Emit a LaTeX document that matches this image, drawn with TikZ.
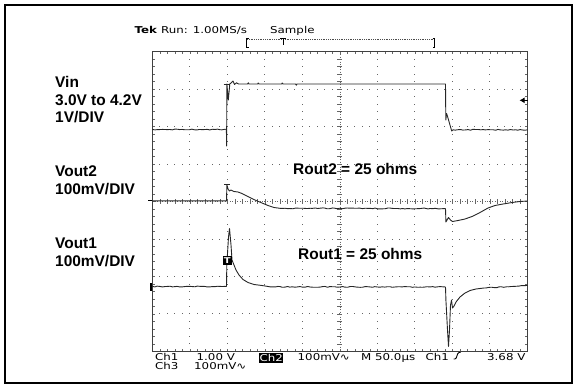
\documentclass[tikz,border=0pt]{standalone}
\usepackage{fontspec}
\setmainfont{Liberation Sans}
\newfontfamily\tekfont[FakeStretch=1.25]{DejaVu Sans}
\usetikzlibrary{arrows.meta,decorations.pathmorphing}

\begin{document}
\begin{tikzpicture}[x=1bp, y=-1bp,
        tek/.style={font=\tekfont\fontsize{9.5}{10}\selectfont, anchor=base west, inner sep=0pt},
        chlabel/.style={font=\fontsize{15.5}{17.5}\selectfont\bfseries, anchor=base west, inner sep=0pt},
        trace/.style={black!85, line width=0.9bp, line join=round},
        noisy/.style={decorate, decoration={random steps, segment length=2.5bp, amplitude=0.45bp}},
        griddot/.style={fill=black!60},
        gridtick/.style={draw=black!60, line width=0.6bp}
    ]
        \useasboundingbox (0,0) rectangle (576,385);

        % Rahmen
        \draw[line width=2bp] (5,5) rectangle (572,382.5);

        % Raster
        \foreach \k in {1,2,3,4,6,7,8,9} {
            \foreach \m in {1,...,39} {
                \fill[griddot] (151.8+37.52*\k, 51.2+7.494*\m) rectangle ++(1,1);
            }
        }
        \foreach \j in {1,2,3,5,6,7} {
            \foreach \m in {1,...,49} {
                \fill[griddot] (151.8+7.504*\m, 51.2+37.47*\j) rectangle ++(1,1);
            }
        }
        % Mittellinien mit Teilstrichen
        \draw[gridtick, dash pattern=on 0.8bp off 1.7bp] (339.9,51.7) -- (339.9,351.5);
        \draw[gridtick, dash pattern=on 0.8bp off 1.7bp] (152.3,201.6) -- (527.5,201.6);
        \foreach \m in {1,...,49} {
            \draw[gridtick] (152.3+7.504*\m,199.1) -- ++(0,5);
            \draw[gridtick] (152.3+7.504*\m,51.7) -- ++(0,2.5);
            \draw[gridtick] (152.3+7.504*\m,351.5) -- ++(0,-2.5);
        }
        \foreach \m in {1,...,39} {
            \draw[gridtick] (337.4,51.7+7.494*\m) -- ++(5,0);
            \draw[gridtick] (152.3,51.7+7.494*\m) -- ++(2.5,0);
            \draw[gridtick] (527.5,51.7+7.494*\m) -- ++(-2.5,0);
        }
        \draw[black!75, line width=0.9bp] (152.3,51.7) rectangle (527.5,351.5);

        % Kopfzeile
        \node[tek] (tek) at (134.5,33.5) {\textbf{Tek} Run: 1.00MS/s};
        \node[tek] (sample) at (270,33.5) {Sample};
        \draw[line width=0.8bp] (248.5,38.3) -- (246.7,38.3) -- (246.7,47) -- (248.5,47);
        \draw[line width=0.8bp] (432.5,38.3) -- (434.3,38.3) -- (434.3,47) -- (432.5,47);
        \draw[black!70, line width=0.6bp, dash pattern=on 0.8bp off 1bp] (247,39.3) -- (434,39.3);
        \draw[line width=0.8bp] (280,38.5) -- (286,38.5) (283,38.5) -- (283,45);

        % Kanalbeschriftungen
        \node[chlabel] (vin) at (55,87.3) {Vin};
        \node[chlabel] (vinrange) at (55,105) {3.0V to 4.2V};
        \node[chlabel] (vindiv) at (55,122.3) {1V/DIV};
        \node[chlabel] (vouttwo) at (55,176.7) {Vout2};
        \node[chlabel] (vouttwodiv) at (55,194.3) {100mV/DIV};
        \node[chlabel] (voutone) at (55,248.3) {Vout1};
        \node[chlabel] (voutonediv) at (55,266.7) {100mV/DIV};
        \node[chlabel] (routtwo) at (293,174) {Rout2 = 25 ohms};
        \node[chlabel] (routone) at (298,259.3) {Rout1 = 25 ohms};

        % Vin
        \draw[trace, noisy] (152.3,129.5) -- (226.4,129.5);
        \draw[trace] (226.4,129.5) -- (226.6,146) -- (226.9,84) -- (228.3,100) -- (229.8,84)
            -- (231.5,82.5) -- (233,81) -- (234.5,84.5) -- (236.5,82.8) -- (238.5,84)
            -- (247.5,84) -- (248.3,82.8) -- (249,84) -- (257.5,84) -- (258.3,83) -- (259,84)
            -- (281.5,84) -- (282.3,83) -- (283,84) -- (295.5,84) -- (296.3,85.2) -- (297,84)
            -- (445.5,84) -- (445.8,120) -- (446.6,113.5) -- (447.4,116) -- (451.7,131) -- (453,129.8);
        \draw[trace] (223.5,84) -- (230,84);
        \draw[trace, noisy] (453,129.8) -- (527.5,129.8);
        \draw[-{Latex[length=5bp,width=6bp]}, line width=1bp] (527.5,100.3) -- (519.5,100.3);

        % Vout2
        \draw[line width=1bp] (148,200.8) -- (152.3,200.8);
        \draw[trace] (152.3,200.8) -- (226.6,200.8) -- (226.8,184.5) -- (228,189) -- (229.5,191)
            -- (231,190) -- (234,191.5) -- (238,192) -- (242,193.5) -- (248,196.5) -- (255,200)
            -- (262,203) -- (268,205.5) -- (274,207.5) -- (280,208.3);
        \draw[trace] (224,184.5) -- (230,184.5);
        \draw[trace, noisy] (280,208.3) -- (445.5,208.5);
        \draw[trace] (445.5,208.5) -- (445.9,222) -- (447,220) -- (448.5,217.5) -- (450.5,220)
            -- (452.5,221.5) -- (458,220.5) -- (465,219) -- (472,216.5) -- (480,212.5) -- (488,208)
            -- (495,205.5) -- (503,204) -- (512,202.5) -- (520,201.5) -- (527.5,201);

        % Vout1
        \draw[line width=1.6bp] (150.8,283) -- (150.8,290.5);
        \draw[trace, noisy] (152.3,286.5) -- (226.5,286.5);
        \draw[trace] (226.5,286.5) -- (226.8,265) -- (228.5,237) -- (229.5,228.5) -- (231,245)
            -- (232,260) -- (234,265) -- (236,270) -- (239,275) -- (243,279.5) -- (248,282.5)
            -- (254,284.5) -- (262,285.5) -- (270,286.8);
        \draw[trace, noisy] (270,286.8) -- (445.5,287);
        \draw[trace] (445.5,287) -- (445.9,300) -- (447.5,330) -- (448.5,346.5) -- (449.5,330)
            -- (450.5,305) -- (451.5,300) -- (452.5,308) -- (454,306) -- (456,302) -- (460,297)
            -- (465,293) -- (470,290.5) -- (476,289) -- (484,288);
        \draw[trace, noisy] (484,288) -- (527.5,285.5);
        \node[fill=black, text=white, font=\tekfont\bfseries\fontsize{8}{9}\selectfont,
            minimum width=9bp, minimum height=9.5bp, inner sep=0pt] (trig) at (227.2,260.3) {T};

        % Fusszeile
        \node[tek] (chone) at (155,360) {Ch1};
        \node[tek] (chonescale) at (196.5,360) {1.00 V};
        \node[fill=black, text=white, font=\tekfont\fontsize{9.5}{10}\selectfont,
            minimum width=24bp, minimum height=10bp, inner sep=0pt] (chtwo) at (271.2,357.6) {Ch2};
        \node[tek] (chtwoscale) at (297.5,360) {100mV∿};
        \node[tek] (timebase) at (361,360) {M 50.0µs};
        \node[tek] (trigsrc) at (425.5,360) {Ch1};
        \draw[line width=0.9bp] (453.5,359) -- (455,359) .. controls (457,359) and (457,352.5) .. (459,352.5) -- (460.5,352.5);
        \node[tek] (triglevel) at (487,360) {3.68 V};
        \node[tek] (chthree) at (155,369.5) {Ch3};
        \node[tek] (chthreescale) at (194,369.5) {100mV∿};
    \end{tikzpicture}
\end{document}
